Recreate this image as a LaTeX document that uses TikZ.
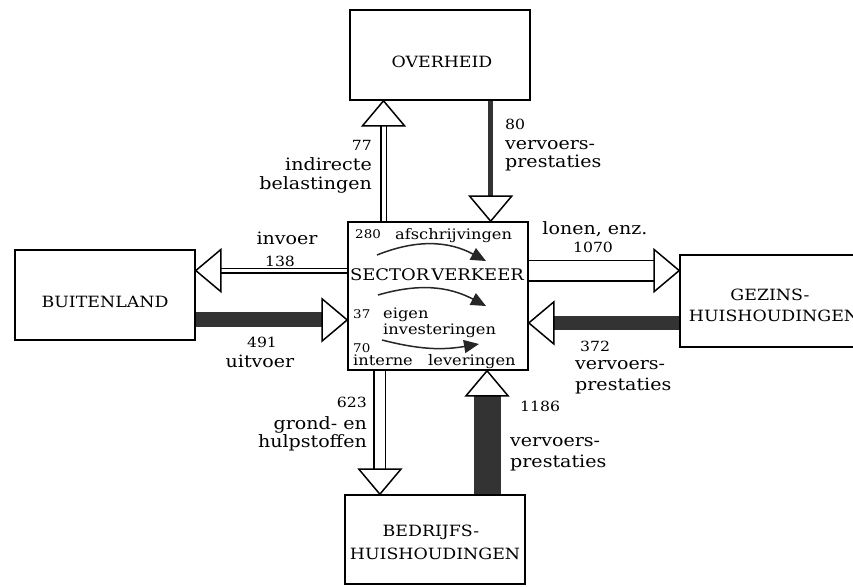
\documentclass[tikz,border=0pt]{standalone}
\usepackage{fontspec}
\setmainfont{DejaVu Serif}[FakeStretch=1.12]
\usetikzlibrary{calc, arrows.meta, positioning}

\tikzset{
  box/.style={draw, line width=1.6pt, minimum width=180pt, minimum height=90pt, inner sep=0pt},
  title/.style={font=\fontsize{15.5}{21}\selectfont, inner sep=0pt},
  lbl/.style={font=\fontsize{17}{20}\selectfont, inner sep=0pt},
  num/.style={font=\fontsize{14}{20}\selectfont, inner sep=0pt},
  smallnum/.style={font=\fontsize{12}{14}\selectfont, inner sep=0pt},
  inword/.style={font=\fontsize{14.5}{17}\selectfont, inner sep=0pt},
  hollowshaft/.style={draw=black, line width=1.5pt, double=white, double distance=#1},
  darkshaft/.style={draw=black!80, line width=#1},
  flowhead/.style={draw=black, fill=white, line width=1.5pt, line join=miter},
  turnarrow/.style={draw=black!85, line width=1.5pt, -{Triangle[length=15pt,width=13pt]}},
}

% hollow triangle head: #1 = shaft side, #2 = tip
\newcommand{\flowhead}[2]{%
  \draw[flowhead] (#2) -- ($(#2)!25pt!(#1)!21pt!90:(#2)$)
    -- ($(#2)!25pt!(#1)!21pt!-90:(#2)$) -- cycle;}

\begin{document}
\begin{tikzpicture}[x=1pt, y=-1pt]
  \useasboundingbox (0,0) rectangle (853,586);
  \clip (0,0) rectangle (853,586);

  % sectors
  \node[box] (overheid) at (440,55) {};
  \node[box] (buitenland) at (105,295) {};
  \node[box, minimum height=148pt] (sector) at (438,296) {};
  \node[box, minimum width=186pt, minimum height=92pt] (gezins) at (773,301) {};
  \node[box, minimum height=89pt] (bedrijfs) at (435,539.5) {};

  \node[title] (toverheid) at (442,62) {OVERHEID};
  \node[title] (tbuitenland) at (105,302) {BUITENLAND};
  \node[title] (tgezins1) at (770,295) {GEZINS-};
  \node[title] (tgezins2) at (774,316) {HUISHOUDINGEN};
  \node[title] (tbedrijfs1) at (431,532) {BEDRIJFS-};
  \node[title] (tbedrijfs2) at (435,554) {HUISHOUDINGEN};

  % end points of the flows
  \coordinate (s77) at ($(sector.north west)!0.2!(sector.north east)$);
  \coordinate (t77) at (s77 |- overheid.south);
  \coordinate (t80) at ($(sector.north west)!0.79!(sector.north east)$);
  \coordinate (s80) at (t80 |- overheid.south);
  \coordinate (s138) at ($(sector.north west)!0.33!(sector.south west)$);
  \coordinate (t138) at (buitenland.east |- s138);
  \coordinate (t491) at ($(sector.north west)!0.66!(sector.south west)$);
  \coordinate (s491) at (buitenland.east |- t491);
  \coordinate (s1070) at ($(sector.north east)!0.33!(sector.south east)$);
  \coordinate (t1070) at (gezins.west |- s1070);
  \coordinate (t372) at ($(sector.north east)!0.68!(sector.south east)$);
  \coordinate (s372) at (gezins.west |- t372);
  \coordinate (s623) at ($(sector.south west)!0.18!(sector.south east)$);
  \coordinate (t623) at (s623 |- bedrijfs.north);
  \coordinate (t1186) at ($(sector.south west)!0.77!(sector.south east)$);
  \coordinate (s1186) at (t1186 |- bedrijfs.north);

  % flows
  \draw[hollowshaft=4pt] (s77) -- ($(t77)!24pt!(s77)$);
  \flowhead{s77}{t77}
  \draw[darkshaft=5pt] (s80) -- ($(t80)!24pt!(s80)$);
  \flowhead{s80}{t80}
  \draw[hollowshaft=3pt] (s138) -- ($(t138)!24pt!(s138)$);
  \flowhead{s138}{t138}
  \draw[darkshaft=15pt] (s491) -- ($(t491)!24pt!(s491)$);
  \flowhead{s491}{t491}
  \draw[hollowshaft=19pt] (s1070) -- ($(t1070)!24pt!(s1070)$);
  \flowhead{s1070}{t1070}
  \draw[darkshaft=14pt] (s372) -- ($(t372)!24pt!(s372)$);
  \flowhead{s372}{t372}
  \draw[hollowshaft=10pt] (s623) -- ($(t623)!24pt!(s623)$);
  \flowhead{s623}{t623}
  \draw[darkshaft=27pt] (s1186) -- ($(t1186)!24pt!(s1186)$);
  \flowhead{s1186}{t1186}

  % inside the sector
  \node[smallnum, anchor=base west] (n280) at (355,238) {280};
  \node[inword, anchor=base west] (afschr) at (395,239) {afschrijvingen};
  \draw[turnarrow] (377,255) to[bend left=25] (486,261);
  \node[font=\fontsize{16}{18}\selectfont, inner sep=0pt, anchor=base] (sectorname) at (437,280) {SECTOR\hspace{2pt}VERKEER};
  \draw[turnarrow] (378,295) to[bend left=22] (486,306);
  \node[smallnum, anchor=base west] (n37) at (353,318) {37};
  \node[inword, anchor=base west] (eigen) at (383,318) {eigen};
  \node[inword, anchor=base west] (invest) at (383,334) {investeringen};
  \node[smallnum, anchor=base west] (n70) at (353,352) {70};
  \draw[turnarrow] (382,340) to[bend right=12] (479,344);
  \node[inword, anchor=base west] (intern) at (353,365) {interne};
  \node[inword, anchor=base west] (lever) at (428,365) {leveringen};

  % labels of the flows
  \node[num, anchor=base east] (l77) at (372,150) {77};
  \node[lbl, anchor=base east] (l77a) at (372,170) {indirecte};
  \node[lbl, anchor=base east] (l77b) at (372,189) {belastingen};

  \node[num, anchor=base west] (l80) at (505,129) {80};
  \node[lbl, anchor=base west] (l80a) at (505,149) {vervoers-};
  \node[lbl, anchor=base west] (l80b) at (505,167) {prestaties};

  \node[lbl, anchor=base] (l138a) at (287,244) {invoer};
  \node[num, anchor=base] (l138) at (280,266) {138};

  \node[num, anchor=base] (l491) at (262,347) {491};
  \node[lbl, anchor=base] (l491a) at (260,367) {uitvoer};

  \node[lbl, anchor=base] (l1070a) at (595,234) {lonen, enz.};
  \node[num, anchor=base] (l1070) at (593,252) {1070};

  \node[num, anchor=base west] (l372) at (580,351) {372};
  \node[lbl, anchor=base west] (l372a) at (575,369) {vervoers-};
  \node[lbl, anchor=base west] (l372b) at (575,390) {prestaties};

  \node[num, anchor=base east] (l623) at (367,407) {623};
  \node[lbl, anchor=base east] (l623a) at (367,429) {grond- en};
  \node[lbl, anchor=base east] (l623b) at (367,447) {hulpstoffen};

  \node[num, anchor=base west] (l1186) at (520,411) {1186};
  \node[lbl, anchor=base west] (l1186a) at (510,446) {vervoers-};
  \node[lbl, anchor=base west] (l1186b) at (510,467) {prestaties};
\end{tikzpicture}
\end{document}
